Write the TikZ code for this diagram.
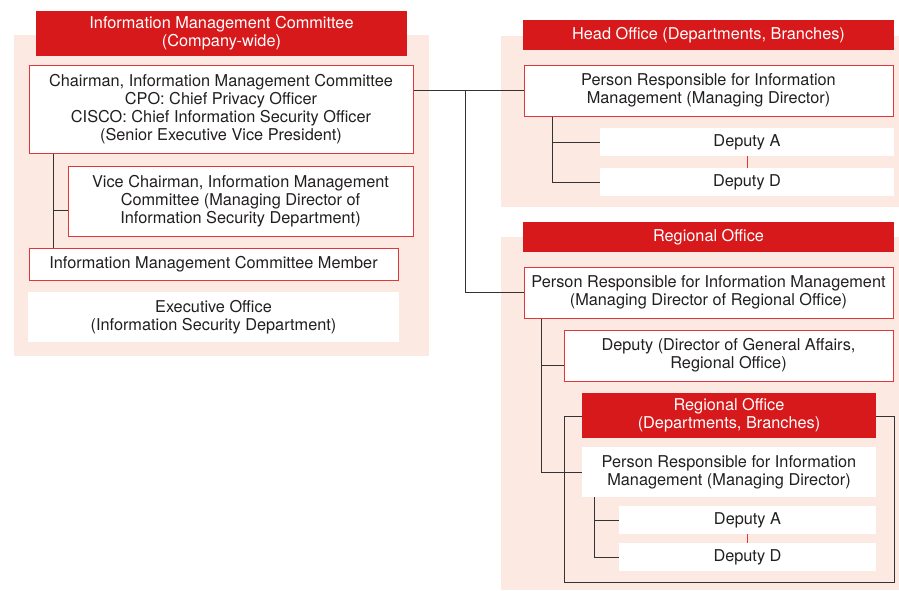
\documentclass[tikz,border=0pt]{standalone}
\usepackage{fontspec}
\setmainfont{TeX Gyre Heros}
\usepackage{tikz}

\definecolor{imred}{HTML}{D7191C}
\definecolor{impink}{HTML}{FCEAE2}
\definecolor{imborder}{HTML}{E2363A}
\definecolor{imline}{HTML}{333333}
\definecolor{imtext}{HTML}{231F20}

\begin{document}
\begin{tikzpicture}[x=1pt,y=-1pt,align=center,
    every node/.style={inner sep=0pt, font=\fontsize{16.3}{18}\selectfont, text=imtext},
    head/.style={fill=imred, text=white},
    box/.style={draw=imborder, fill=white, line width=1pt},
    plain/.style={fill=white},
    link/.style={draw=imline, line width=0.9pt}]
  \useasboundingbox (0,0) rectangle (899,590);
  % panels
  \fill[impink] (14,35) rectangle (429,356);
  \fill[impink] (501,36) rectangle (899,207);
  \fill[impink] (501,237) rectangle (899,590);
  \draw[link] (564,416.5) rectangle (894,582);

  % company-wide committee
  \node[head, minimum width=371pt, minimum height=45pt] at (221.5, 33.5) (Committee) {Information Management Committee\\(Company-wide)};
  \node[box, minimum width=384pt, minimum height=88pt] at (221, 109) (Chair) {Chairman, Information Management Committee\\CPO: Chief Privacy Officer\\CISCO: Chief Information Security Officer\\(Senior Executive Vice President)};
  \node[box, minimum width=345pt, minimum height=70pt] at (240.5, 201) (Vice) {Vice Chairman, Information Management\\Committee (Managing Director of\\Information Security Department)};
  \node[box, minimum width=369pt, minimum height=32pt] at (213.5, 264) (Member) {Information Management Committee Member};
  \node[plain, minimum width=371pt, minimum height=50pt] at (213.5, 317) (Exec) {Executive Office\\(Information Security Department)};

  % head office
  \node[head, minimum width=371pt, minimum height=30pt] at (708.5, 35) (HOffice) {Head Office (Departments, Branches)};
  \node[box, minimum width=369pt, minimum height=51pt] at (708.5, 90.5) (HPR) {Person Responsible for Information\\Management (Managing Director)};
  \node[plain, minimum width=294pt, minimum height=28pt] at (747, 142) (HDepA) {Deputy A};
  \node[plain, minimum width=294pt, minimum height=28pt] at (747, 182) (HDepD) {Deputy D};

  % regional office
  \node[head, minimum width=371pt, minimum height=30pt] at (708.5, 237) (ROffice) {Regional Office};
  \node[box, minimum width=369pt, minimum height=51pt] at (708.5, 292.5) (RPR) {Person Responsible for Information Management\\(Managing Director of Regional Office)};
  \node[box, minimum width=329pt, minimum height=51pt] at (728.5, 355.5) (RDep) {Deputy (Director of General Affairs,\\Regional Office)};
  \node[head, minimum width=294pt, minimum height=45pt] at (729, 415.5) (IOffice) {Regional Office\\(Departments, Branches)};
  \node[plain, minimum width=294pt, minimum height=50pt] at (729, 472) (IPR) {Person Responsible for Information\\Management (Managing Director)};
  \node[plain, minimum width=257pt, minimum height=28pt] at (747.5, 520) (IDepA) {Deputy A};
  \node[plain, minimum width=257pt, minimum height=28pt] at (747.5, 557) (IDepD) {Deputy D};

  % connectors
  \coordinate (J) at (465, 90.5);
  \draw[link] (Chair.east |- HPR.west) -- (HPR.west);
  \draw[link] (J) |- (RPR.west);
  \draw[link] ([xshift=25pt]Chair.south west) -- ([xshift=25pt]Member.north west);
  \draw[link] ([xshift=25pt]Chair.south west) |- ([yshift=-9pt]Vice.west);
  \draw[link] ([xshift=29pt]HPR.south west) |- (HDepA.west);
  \draw[link] ([xshift=29pt]HPR.south west) |- (HDepD.west);
  \draw[link] ([xshift=18pt]RPR.south west) |- ([yshift=-9.5pt]RDep.west);
  \draw[link] ([xshift=18pt]RPR.south west) |- (IPR.west);
  \draw[link] ([xshift=13pt]IPR.south west) |- (IDepA.west);
  \draw[link] ([xshift=13pt]IPR.south west) |- (IDepD.west);
  \draw[imborder, line width=0.9pt] (HDepA) -- (HDepD);
  \draw[imborder, line width=0.9pt] (IDepA) -- (IDepD);
\end{tikzpicture}
\end{document}
